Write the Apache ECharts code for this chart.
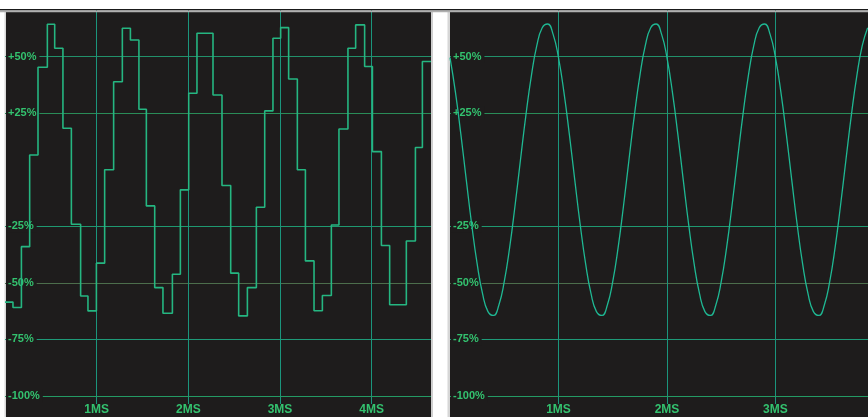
<!DOCTYPE html>
<html>
<head>
<meta charset="utf-8">
<script src="https://cdn.jsdelivr.net/npm/echarts@6/dist/echarts.min.js"></script>
<style>
html,body{margin:0;padding:0;background:#ffffff;}
#chart{width:868px;height:417px;}
</style>
</head>
<body>
<div id="chart"></div>
<script>
// Left panel: stepped waveform (time in ms, level in %)
const stepTimes = [0, 0.087, 0.179, 0.269, 0.360, 0.462, 0.542, 0.632, 0.724, 0.825, 0.905, 0.997,
  1.087, 1.185, 1.280, 1.368, 1.461, 1.542, 1.633, 1.723, 1.826, 1.913, 2.004, 2.094,
  2.269, 2.367, 2.462, 2.549, 2.644, 2.742, 2.833, 2.923, 3.007, 3.094, 3.189, 3.277,
  3.371, 3.462, 3.560, 3.643, 3.741, 3.825, 3.923, 4.008, 4.106, 4.196, 4.378, 4.477,
  4.553, 4.647];
const stepLevels = [-58.5, -60.9, -34.0, 6.5, 45.3, 64.3, 53.7, 18.3, -24.1, -55.8, -62.4, -41.3,
  0.0, 38.9, 62.5, 57.3, 26.7, -16.0, -52.1, -63.4, -46.2, -8.9, 33.8, 60.3,
  33.0, -7.0, -45.7, -64.6, -52.1, -16.6, 26.0, 58.1, 62.8, 40.1, 0.0, -40.3,
  -62.3, -55.6, -24.4, 18.0, 53.7, 64.0, 45.6, 8.0, -33.5, -59.7, -31.5, 9.8,
  47.8, 47.8];

// Right panel: smooth sine, sampled every 0.05 ms
const sineStep = 0.05;
const sineValues = [
  49.5, 34.3, 15.7, -4.5, -24.2, -41.5, -54.8, -62.7, -64.4, -59.9,
  -49.5, -34.3, -15.7, 4.5, 24.2, 41.5, 54.8, 62.7, 64.4, 59.9,
  49.5, 34.3, 15.7, -4.5, -24.2, -41.5, -54.8, -62.7, -64.4, -59.9,
  -49.5, -34.3, -15.7, 4.5, 24.2, 41.5, 54.8, 62.7, 64.4, 59.9,
  49.5, 34.3, 15.7, -4.5, -24.2, -41.5, -54.8, -62.7, -64.4, -59.9,
  -49.5, -34.3, -15.7, 4.5, 24.2, 41.5, 54.8, 62.7, 64.4, 59.9,
  49.5, 34.3, 15.7, -4.5, -24.2, -41.5, -54.8, -62.7, -64.4, -59.9,
  -49.5, -34.3, -15.7, 4.5, 24.2, 41.5, 54.8, 62.7
];

// Grid levels and tick labels
const yTicks = [-100, -75, -50, -25, 25, 50];
const yTickColors = ['#249a64', '#1e9a78', '#4c6e4c', '#1f9870', '#2a8c58', '#22906a'];
const xTicksLeft = [1, 2, 3, 4];
const xTicksRight = [1, 2, 3];

const labelGreen = '#33c26f';
const panelBg = '#1e1c1c';
const vGrid = '#1b957c';

const yFmt = v => (v > 0 ? '+' : '') + v + '%';
const xFmt = v => {
  const r = Math.round(v);
  return (Math.abs(v - r) < 1e-6 && r >= 1) ? r + 'MS' : '';
};

function makeX(gi, max, ticks) {
  return {
    gridIndex: gi, type: 'value', min: 0, max: max, interval: 1,
    axisLine: { show: false, onZero: false },
    axisTick: { show: true, customValues: ticks, length: 8, lineStyle: { color: vGrid, width: 1 } },
    axisLabel: { customValues: ticks, formatter: xFmt, color: labelGreen, fontWeight: 'bold',
      fontSize: 12, fontFamily: 'Liberation Sans, Arial, sans-serif', margin: 8 },
    splitLine: { show: false }
  };
}
function makeY(gi) {
  return {
    gridIndex: gi, type: 'value', min: -100, max: 75, interval: 25, z: 3,
    axisLine: { show: false, onZero: false }, axisTick: { show: false },
    axisLabel: { inside: true, margin: 1, customValues: yTicks, formatter: yFmt, color: labelGreen,
      fontWeight: 'bold', fontSize: 11, fontFamily: 'Liberation Sans, Arial, sans-serif',
      backgroundColor: panelBg, padding: [1, 3, 1, 2] },
    splitLine: { show: false }
  };
}
function gridLines(gi, xTicks) {
  const data = yTicks.map((v, i) => ({ yAxis: v, lineStyle: { color: yTickColors[i] } }))
    .concat(xTicks.map(v => ({ xAxis: v, lineStyle: { color: vGrid } })));
  return {
    type: 'line', xAxisIndex: gi, yAxisIndex: gi, data: [], z: 1, silent: true,
    markLine: {
      z: 1, silent: true, symbol: ['none', 'none'], label: { show: false },
      lineStyle: { type: 'solid', width: 1 }, emphasis: { disabled: true },
      animation: false, data: data
    }
  };
}

const chart = echarts.init(document.getElementById('chart'), null, { renderer: 'canvas' });
chart.setOption({
  animation: false,
  backgroundColor: '#ffffff',
  grid: [
    { left: 5, top: 0, width: 426, bottom: 21 },
    { left: 450, top: 0, width: 418, bottom: 21 }
  ],
  xAxis: [makeX(0, 4.647, xTicksLeft), makeX(1, 3.853, xTicksRight)],
  yAxis: [makeY(0), makeY(1)],
  graphic: [
    { type: 'rect', z: -10, shape: { x: 6, y: 12, width: 425, height: 405 }, style: { fill: panelBg } },
    { type: 'rect', z: -10, shape: { x: 450, y: 12, width: 418, height: 405 }, style: { fill: panelBg } },
    { type: 'rect', z: -11, shape: { x: 4.5, y: 12, width: 1.5, height: 405 }, style: { fill: '#d8d8d8' } },
    { type: 'rect', z: -11, shape: { x: 431, y: 12, width: 2, height: 405 }, style: { fill: '#cfcfcf' } },
    { type: 'rect', z: -11, shape: { x: 447.5, y: 12, width: 2.5, height: 405 }, style: { fill: '#d6d6d6' } },
    { type: 'rect', z: 100, shape: { x: 0, y: 0, width: 868, height: 9 }, style: { fill: '#ffffff' } },
    { type: 'rect', z: 100, shape: { x: 0, y: 9, width: 868, height: 1.5 }, style: { fill: '#1a1a1a' } },
    { type: 'rect', z: 100, shape: { x: 0, y: 10.5, width: 868, height: 1.8 }, style: { fill: '#b0b0b0' } }
  ],
  series: [
    gridLines(0, xTicksLeft),
    gridLines(1, xTicksRight),
    {
      type: 'line', xAxisIndex: 0, yAxisIndex: 0, step: 'end', showSymbol: false, z: 5,
      data: stepTimes.map((t, i) => [t, stepLevels[i]]),
      lineStyle: { color: '#25b681', width: 1.6 }
    },
    {
      type: 'line', xAxisIndex: 1, yAxisIndex: 1, smooth: true, showSymbol: false, z: 5,
      data: sineValues.map((v, i) => [i * sineStep, v]),
      lineStyle: { color: '#1fb893', width: 1.3 }
    }
  ]
});
</script>
</body>
</html>
